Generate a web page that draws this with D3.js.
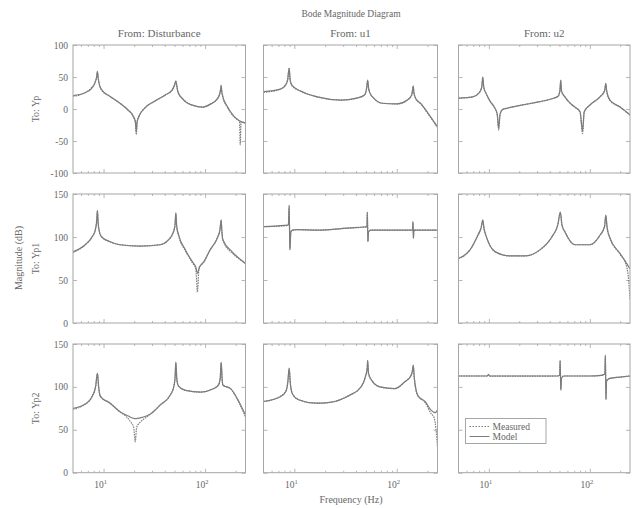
<!DOCTYPE html>
<html>
<head>
<meta charset="utf-8">
<script src="https://cdn.jsdelivr.net/npm/d3@7"></script>
<style>
  html, body { margin: 0; padding: 0; background: #fff; }
  svg { display: block; }
  text { font-family: "Liberation Serif", "DejaVu Serif", serif; fill: #666; }
</style>
</head>
<body>
<svg id="chart" width="636" height="508"></svg>
<script>
// ---- chart values -------------------------------------------------------
const chartTitle = "Bode Magnitude Diagram";
const xLabel = "Frequency (Hz)";
const yLabel = "Magnitude (dB)";
const inputNames = ["From: Disturbance", "From: u1", "From: u2"];
const outputNames = ["To: Yp", "To: Yp1", "To: Yp2"];
const seriesNames = ["Measured", "Model"];
const freqDomain = [5, 250];
const freqTicks = [10, 100];
const freqTickExp = ["1", "2"];
const rowDomains = [[-100, 100], [0, 150], [0, 150]];
const rowTicks = [[-100, -50, 0, 50, 100], [0, 50, 100, 150], [0, 50, 100, 150]];

// [frequency (Hz), magnitude (dB)]
// Disturbance -> Yp
const model_d_yp = [[5,21],[6.5,25],[7.6,32],[8.2,40],[8.55,50],[8.7,59],[8.85,48],[9.1,38],[9.6,30],[11.5,20],[14.5,9],[17.5,-2],[19.6,-11],[20.6,-20],[21,-36],[21.4,-20],[22.4,-11],[25.7,2],[32,12.5],[40.6,22],[47.5,30],[50,37],[51.5,44],[52.8,35],[54,27],[60,16],[75,6],[95,3],[114,8],[131,15.5],[139,23],[142.5,31],[144,37],[145.5,29],[149,20],[164,5],[192,-11],[215,-18],[250,-22]];
const meas_d_yp = [[5,20],[6.5,25],[7.6,33],[8.2,41],[8.55,51],[8.7,58],[8.85,49],[9.1,38],[9.6,29],[11.5,20],[14.5,9],[17.5,-2],[19.6,-12],[20.6,-22],[21,-40],[21.4,-21],[22.4,-11],[25.7,2],[32,12],[40.6,22],[47.5,30],[50,38],[51.5,43],[52.8,35],[54,26],[60,16],[75,6],[95,3],[114,8],[131,15],[139,23],[142.5,32],[144,36],[145.5,29],[149,20],[164,4],[192,-12],[210,-17],[218,-19],[222,-56],[226,-20],[250,-23]];
// u1 -> Yp
const model_u1_yp = [[5,27],[7.3,31],[8.2,37],[8.6,45],[8.9,64],[9.1,46],[9.5,37],[11.5,28],[16.7,19],[28.8,14],[40.6,17],[48.5,22],[50.8,32],[52,45],[53.2,32],[56,22],[58,19],[72,9],[101,8],[127,14],[140,22],[143,30],[145,36],[147,26],[155,15],[171,9],[201,-6],[250,-28]];
const meas_u1_yp = [[5,26],[7.3,31],[8.2,38],[8.6,46],[8.9,63],[9.1,45],[9.5,36],[11.5,28],[16.7,19],[28.8,14],[40.6,17],[48.5,22],[50.8,33],[52,44],[53.2,31],[56,22],[58,19],[72,9],[101,8],[127,14],[140,22],[143,31],[145,35],[147,25],[155,15],[171,8],[201,-7],[250,-29]];
// u2 -> Yp
const model_u2_yp = [[5,17],[6.9,19],[8.1,26],[8.5,34],[8.7,50],[8.9,34],[9.4,24],[10.3,12],[11.4,2],[12.1,-8],[12.5,-30],[12.9,-8],[13.6,-1],[15.5,1.5],[21,6],[31,11],[42,16],[48.5,20],[50.5,28],[51.5,45],[52.5,28],[56.6,19],[63,10],[71,3],[80,-4],[84.7,-34],[88,-4],[100,6],[126,19],[140,28],[144,40],[147,28],[158,14],[199,3],[250,-9]];
const meas_u2_yp = [[5,17],[6.9,19],[8.1,27],[8.5,35],[8.7,49],[8.9,33],[9.4,24],[10.3,12],[11.4,2],[12.1,-9],[12.5,-33],[12.9,-9],[13.6,-1],[15.5,1.5],[21,6],[31,11],[42,16],[48.5,20],[50.5,29],[51.5,44],[52.5,27],[56.6,19],[63,10],[71,3],[80,-5],[84.7,-38],[88,-5],[100,6],[126,19],[140,29],[144,39],[147,27],[158,14],[199,3],[250,-10]];
// Disturbance -> Yp1
const model_d_yp1 = [[5,83],[6.6,91],[7.7,100],[8.3,108],[8.55,118],[8.7,131],[8.85,116],[9.2,104],[9.6,100],[11.6,94.5],[14.5,91],[22.9,89.5],[36,91],[43,96],[48,104],[50.5,113],[51.5,128],[52.5,113],[55,102],[64,85],[75,71],[81,65],[84,58],[88,65],[97,71],[112,85],[132,99],[140,108],[144,120],[146,108],[150,96.5],[186,82.5],[250,69]];
const meas_d_yp1 = [[5,82],[6.6,91],[7.7,100],[8.3,109],[8.55,119],[8.7,130],[8.85,115],[9.2,104],[9.6,100],[11.6,94.5],[14.5,91],[22.9,89.5],[36,91],[43,96],[48,104],[50.5,114],[51.5,127],[52.5,112],[55,101],[64,84],[75,70],[81,63],[84,36],[87,63],[97,71],[112,85],[132,99],[140,109],[144,119],[146,107],[150,96],[186,81],[220,74],[250,70]];
// u1 -> Yp1
const model_u1_yp1 = [[5,112],[8,113.5],[8.75,114],[8.9,137],[9.05,85],[9.25,106],[9.6,108],[10.5,108.5],[17,108],[35,110.5],[48,111.6],[51.2,112],[51.6,129],[52.3,94.5],[53,106],[56,108],[130,108],[143,108],[144,118],[145.5,98.5],[147,108],[250,108]];
const meas_u1_yp1 = [[5,112],[8,113],[8.75,114],[8.9,135],[9.05,86],[9.25,106],[9.6,108],[10.5,108.5],[17,108],[35,110.5],[48,111.5],[51.2,112],[51.6,128],[52.3,95],[53,106],[56,108],[130,108],[143,108],[144,117],[145.5,99],[147,108],[250,108]];
// u2 -> Yp1
const model_u2_yp1 = [[5,75],[6.5,85],[7.8,102],[8.4,111],[8.7,120],[8.95,110],[9.4,101],[11.5,83],[16.1,78],[22.7,78],[32,85],[42,100],[48.2,114],[51,129],[53,114],[56.6,106],[71,91],[100,91],[126,102],[140,112],[144,125.6],[148,112],[158,99],[199,81],[238,67],[250,63]];
const meas_u2_yp1 = [[5,75],[6.5,85],[7.8,103],[8.4,112],[8.7,119],[8.95,109],[9.4,101],[11.5,83],[16.1,78],[22.7,78],[32,85],[42,100],[48.2,115],[51,128],[53,113],[56.6,106],[71,91],[100,91],[126,102],[140,113],[144,124.6],[148,111],[158,99],[199,80],[228,68],[240,55],[250,28]];
// Disturbance -> Yp2
const model_d_yp2 = [[5,75],[6.6,80],[7.7,88.6],[8.35,100],[8.7,116],[8.95,100],[9.3,89],[11.6,81],[14.5,71],[17.5,66],[20.5,63],[24,64.5],[28.7,68],[36.2,79],[45.4,90.6],[48.8,98.7],[50.6,110],[51.5,129],[52.6,110],[54.7,101],[64.2,96],[90.6,94],[118.6,97.5],[135,102],[141,110],[144,129],[147,110],[150,102],[178,98],[215,83],[250,67]];
const meas_d_yp2 = [[5,74],[6.6,80],[7.7,89],[8.35,101],[8.7,115],[8.95,99],[9.3,89],[11.6,81],[14.5,71],[16.5,66],[18.5,59],[19.8,53],[20.5,36],[21.2,53],[23,59],[26,64],[28.7,68],[36.2,79],[45.4,90.6],[48.8,99],[50.6,111],[51.5,128],[52.6,109],[54.7,101],[64.2,96],[90.6,94],[118.6,97.5],[135,102],[141,111],[144,128],[147,109],[150,102],[178,98],[215,82],[250,65]];
// u1 -> Yp2
const model_u1_yp2 = [[5,83],[7.3,88.6],[8.3,95],[8.65,106],[8.9,122],[9.15,104],[9.6,91.7],[11,85],[16.3,81],[22.3,82],[35,90.6],[43.8,98.7],[49,110],[51.5,122],[52,131],[53,116],[57.4,107],[68.7,100],[96,98],[120,106],[138,113],[142,118],[145,125.5],[148,112],[161,90],[189,83],[216,73],[237,70],[250,73]];
const meas_u1_yp2 = [[5,83],[7.3,89],[8.3,96],[8.65,107],[8.9,121],[9.15,103],[9.6,91.7],[11,85],[16.3,81],[22.3,82],[35,90.6],[43.8,98.7],[49,111],[51.5,123],[52,130],[53,115],[57.4,107],[68.7,100],[96,98],[120,106],[138,114],[142,119],[145,124.5],[148,111],[161,89],[189,82],[216,69],[232,64],[242,50],[250,30]];
// u2 -> Yp2
const model_u2_yp2 = [[5,112.7],[9.6,112.7],[9.9,114],[10.2,112.7],[48,112.7],[50.3,113.5],[50.8,131],[51.6,96],[52.4,110],[55,112.7],[100,112.7],[130,113.5],[141,115],[142.5,137],[144.5,85],[146.5,107],[158,110],[200,111.5],[250,112.7]];
const meas_u2_yp2 = [[5,112.7],[9.6,112.7],[9.9,114.5],[10.2,112.5],[48,112.7],[50.3,114],[50.8,130],[51.6,97],[52.4,110],[55,112.7],[100,112.7],[130,113.5],[141,115.5],[142.5,136],[144.5,86],[146.5,107],[158,110],[200,111.5],[250,112.7]];

// ---- layout -------------------------------------------------------------
const colLeft = [73, 263.5, 458.5];
const colWidth = [172.5, 174, 171.5];
const rowTop = [45, 194, 344];
const rowHeight = [128, 129, 128.7];

const grid = [
  [[meas_d_yp, model_d_yp], [meas_u1_yp, model_u1_yp], [meas_u2_yp, model_u2_yp]],
  [[meas_d_yp1, model_d_yp1], [meas_u1_yp1, model_u1_yp1], [meas_u2_yp1, model_u2_yp1]],
  [[meas_d_yp2, model_d_yp2], [meas_u1_yp2, model_u1_yp2], [meas_u2_yp2, model_u2_yp2]]
];

const svg = d3.select("#chart");
const frameColor = "#a6a6a6";
const lineColor = "#7c7c7c";

// figure title, column titles, shared axis labels
svg.append("text").attr("x", 351).attr("y", 17).attr("text-anchor", "middle")
  .attr("font-size", 9.5).text(chartTitle);

inputNames.forEach((name, c) => {
  svg.append("text").attr("x", colLeft[c] + colWidth[c] / 2).attr("y", 37)
    .attr("text-anchor", "middle").attr("font-size", 11).text(name);
});

svg.append("text").attr("transform", "translate(22,258) rotate(-90)")
  .attr("text-anchor", "middle").attr("font-size", 10).text(yLabel);

svg.append("text").attr("x", 351).attr("y", 503).attr("text-anchor", "middle")
  .attr("font-size", 10).text(xLabel);

const minorFreqs = [6, 7, 8, 9, 20, 30, 40, 50, 60, 70, 80, 90, 200];

grid.forEach((rowPanels, r) => {
  const y = d3.scaleLinear().domain(rowDomains[r]).range([rowTop[r] + rowHeight[r], rowTop[r]]);

  svg.append("text")
    .attr("transform", `translate(39,${rowTop[r] + rowHeight[r] / 2}) rotate(-90)`)
    .attr("text-anchor", "middle").attr("font-size", 10).text(outputNames[r]);

  rowPanels.forEach((pair, c) => {
    const x = d3.scaleLog().domain(freqDomain).range([colLeft[c], colLeft[c] + colWidth[c]]);
    const g = svg.append("g");
    const clipId = `clip-${r}-${c}`;
    g.append("clipPath").attr("id", clipId).append("rect")
      .attr("x", colLeft[c]).attr("y", rowTop[r]).attr("width", colWidth[c]).attr("height", rowHeight[r]);

    // inward ticks on all four sides
    const yL = d3.axisRight(y).tickValues(rowTicks[r]).tickSize(4).tickFormat("");
    const yR = d3.axisLeft(y).tickValues(rowTicks[r]).tickSize(4).tickFormat("");
    const xB = d3.axisTop(x).tickValues(freqTicks).tickSize(4).tickFormat("");
    const xT = d3.axisBottom(x).tickValues(freqTicks).tickSize(4).tickFormat("");
    const xBm = d3.axisTop(x).tickValues(minorFreqs).tickSize(2).tickFormat("");
    const xTm = d3.axisBottom(x).tickValues(minorFreqs).tickSize(2).tickFormat("");
    const bottom = rowTop[r] + rowHeight[r];
    const right = colLeft[c] + colWidth[c];
    [[yL, `translate(${colLeft[c]},0)`], [yR, `translate(${right},0)`],
     [xB, `translate(0,${bottom})`], [xT, `translate(0,${rowTop[r]})`],
     [xBm, `translate(0,${bottom})`], [xTm, `translate(0,${rowTop[r]})`]].forEach(([ax, tr]) => {
      const a = g.append("g").attr("transform", tr).call(ax);
      a.select(".domain").remove();
      a.selectAll("line").attr("stroke", frameColor).attr("stroke-width", 0.8);
    });

    // y tick labels
    if (c === 0) {
      rowTicks[r].forEach(v => {
        g.append("text").attr("x", colLeft[c] - 5).attr("y", y(v) + 3.5)
          .attr("text-anchor", "end").attr("font-size", 9.5).text(v);
      });
    }
    // x tick labels on bottom row
    if (r === 2) {
      freqTicks.forEach((f, i) => {
        const t = g.append("text").attr("x", x(f) - 3).attr("y", bottom + 15)
          .attr("text-anchor", "middle").attr("font-size", 9.5);
        t.append("tspan").text("10");
        t.append("tspan").attr("dy", -4).attr("font-size", 6.5).text(freqTickExp[i]);
      });
    }

    const line = d3.line().x(d => x(d[0])).y(d => y(d[1])).curve(d3.curveMonotoneX);
    const plot = g.append("g").attr("clip-path", `url(#${clipId})`);
    plot.append("path").datum(pair[1]).attr("d", line).attr("fill", "none")
      .attr("stroke", lineColor).attr("stroke-width", 1.2);
    plot.append("path").datum(pair[0]).attr("d", line).attr("fill", "none")
      .attr("stroke", lineColor).attr("stroke-width", 1.2).attr("stroke-dasharray", "1.5,1");

    g.append("rect").attr("x", colLeft[c]).attr("y", rowTop[r])
      .attr("width", colWidth[c]).attr("height", rowHeight[r])
      .attr("fill", "none").attr("stroke", frameColor).attr("stroke-width", 1);
  });
});

// legend in the lower-right panel
const lg = svg.append("g").attr("transform", "translate(465.5,418.5)");
lg.append("rect").attr("width", 80.5).attr("height", 25).attr("fill", "#fff")
  .attr("stroke", frameColor).attr("stroke-width", 1);
seriesNames.forEach((name, i) => {
  const yy = 8 + i * 10;
  lg.append("line").attr("x1", 4).attr("x2", 24).attr("y1", yy).attr("y2", yy)
    .attr("stroke", lineColor).attr("stroke-width", 1)
    .attr("stroke-dasharray", i === 0 ? "1.5,1.5" : null);
  lg.append("text").attr("x", 27).attr("y", yy + 3.5).attr("font-size", 9.5).text(name);
});
</script>
</body>
</html>
